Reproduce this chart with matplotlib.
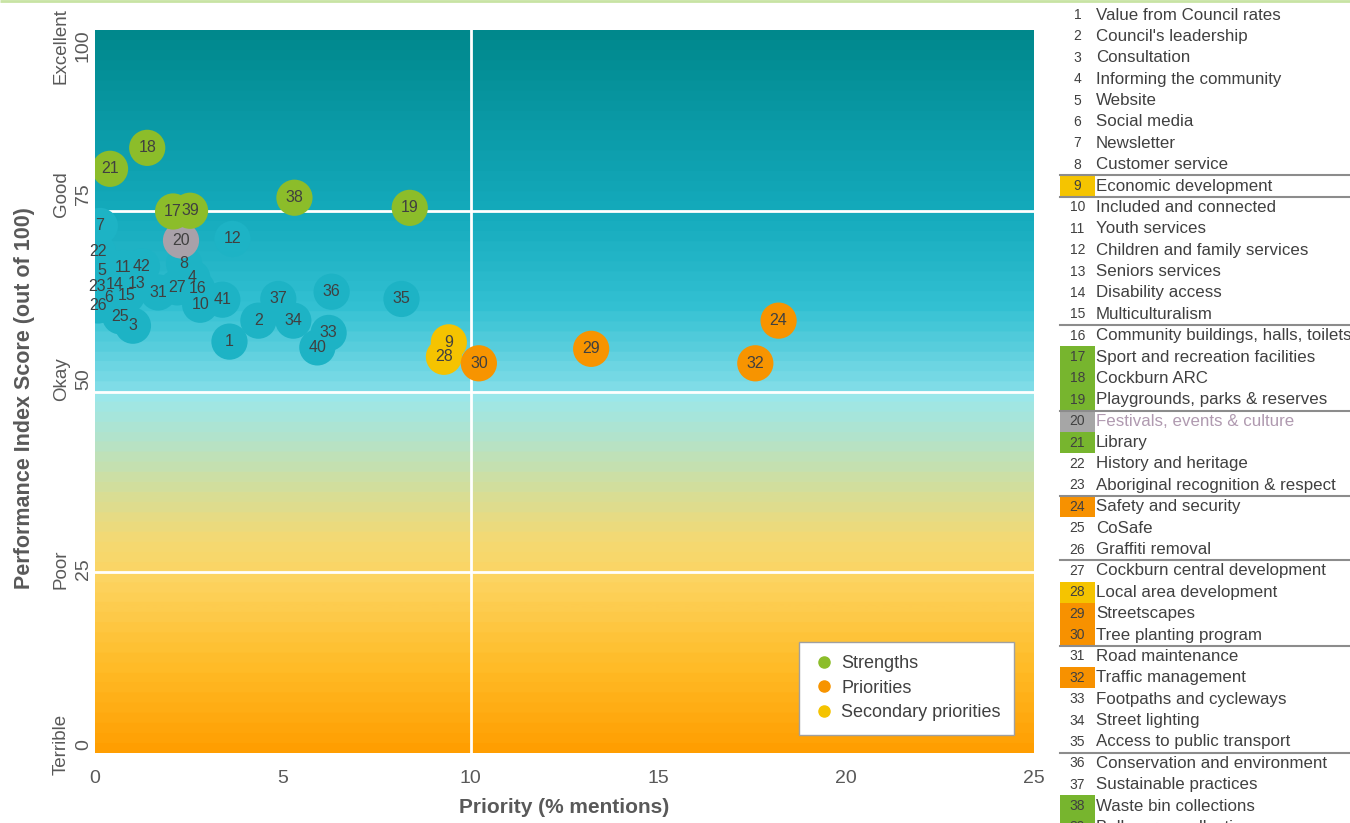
import numpy as np
import matplotlib
matplotlib.use("Agg")
import matplotlib.pyplot as plt
from matplotlib.colors import LinearSegmentedColormap
from matplotlib.lines import Line2D
import matplotlib.transforms as mtransforms

plt.rcParams['font.family'] = ['Liberation Sans', 'DejaVu Sans']

# ---------------- data ----------------
ids = list(range(1, 43))
priority = [3.58, 4.35, 1.01, 2.59, 0.19, 0.37, 0.13, 2.37, 9.42, 2.80,
            0.75, 3.66, 1.12, 0.53, 0.85, 2.72, 2.08, 1.39, 8.38, 2.29,
            0.40, 0.08, 0.05, 18.20, 0.67, 0.08, 2.19, 9.29, 13.21, 10.22,
            1.68, 17.58, 6.22, 5.28, 8.16, 6.30, 4.88, 5.31, 2.53, 5.92,
            3.39, 1.25]
score = [56.9, 59.8, 59.1, 65.7, 66.8, 63.0, 72.9, 67.7, 56.8, 62.0,
         67.1, 71.1, 64.9, 64.8, 63.3, 64.2, 74.9, 83.7, 75.4, 70.9,
         80.8, 69.3, 64.5, 59.8, 60.4, 61.9, 64.4, 54.8, 55.9, 53.9,
         63.7, 53.9, 58.1, 59.8, 62.8, 63.8, 62.8, 76.8, 75.0, 56.1,
         62.7, 67.3]
strengths = [17, 18, 19, 21, 38, 39]
priorities = [24, 29, 30, 32]
secondary = [9, 28]
neutral = [20]

names = ["Value from Council rates", "Council's leadership", "Consultation",
         "Informing the community", "Website", "Social media", "Newsletter",
         "Customer service", "Economic development", "Included and connected",
         "Youth services", "Children and family services", "Seniors services",
         "Disability access", "Multiculturalism",
         "Community buildings, halls, toilets", "Sport and recreation facilities",
         "Cockburn ARC", "Playgrounds, parks & reserves",
         "Festivals, events & culture", "Library", "History and heritage",
         "Aboriginal recognition & respect", "Safety and security", "CoSafe",
         "Graffiti removal", "Cockburn central development",
         "Local area development", "Streetscapes", "Tree planting program",
         "Road maintenance", "Traffic management", "Footpaths and cycleways",
         "Street lighting", "Access to public transport",
         "Conservation and environment", "Sustainable practices",
         "Waste bin collections", "Bulk verge collections"]
group_breaks = [8, 9, 15, 19, 23, 26, 30, 35]   # separator after these items

y_ticks = [0, 25, 50, 75, 100]
y_cats = ["Terrible", "Poor", "Okay", "Good", "Excellent"]
x_ticks = [0, 5, 10, 15, 20, 25]

# ---------------- styles ----------------
C_TEAL = '#1DB3C5'
C_GREEN = '#8CBD2A'
C_ORANGE = '#F79400'
C_YELLOW = '#F5C300'
C_GREY = '#A9A1A9'
BOX = {'strength': '#77B52E', 'priority': '#F79100',
       'secondary': '#F5C400', 'neutral': '#A6A6A6'}
TXT = '#404040'
AX_TXT = '#595959'
NARROW = ['Liberation Sans Narrow', 'Liberation Sans']


def cat_of(i):
    if i in strengths:
        return 'strength'
    if i in priorities:
        return 'priority'
    if i in secondary:
        return 'secondary'
    if i in neutral:
        return 'neutral'
    return 'other'


col_map = {'strength': C_GREEN, 'priority': C_ORANGE, 'secondary': C_YELLOW,
           'neutral': C_GREY, 'other': C_TEAL}

W, H = 1350, 823
fig = plt.figure(figsize=(W / 100, H / 100), dpi=100)
fig.patch.set_facecolor('white')

ax = fig.add_axes([95 / W, 70 / H, 939 / W, 723 / H])
ax.set_xlim(0, 25)
ax.set_ylim(0, 100)

# gradient background
stops = [(0.00, (255, 158, 0)), (0.12, (255, 188, 40)), (0.24, (253, 212, 97)),
         (0.30, (242, 218, 118)), (0.36, (214, 222, 152)), (0.43, (181, 227, 200)),
         (0.495, (155, 232, 235)), (0.505, (128, 221, 232)), (0.62, (50, 192, 210)),
         (0.75, (20, 170, 188)), (0.88, (10, 153, 165)), (1.00, (0, 136, 140))]
cmap = LinearSegmentedColormap.from_list(
    'bg', [(p, tuple(c / 255 for c in rgb)) for p, rgb in stops])
nb = 72
vals = (np.floor(np.linspace(0, 1, 1000) * nb) + 0.5) / nb
img = cmap(vals)[:, None, :]
ax.imshow(img, extent=[0, 25, 0, 100], origin='lower', aspect='auto', zorder=0)

for yv in [25, 50, 75]:
    ax.axhline(yv, color='white', lw=2, zorder=1)
ax.axvline(10, color='white', lw=2, zorder=1)

for sp in ax.spines.values():
    sp.set_visible(False)
ax.tick_params(length=0)
ax.set_xticks(x_ticks)
ax.set_xticklabels([str(v) for v in x_ticks], fontsize=14, color=AX_TXT,
                   family=NARROW)
ax.tick_params(axis='x', pad=12)
ax.set_yticks([])

# y tick labels & categories (rotated text)
trans = mtransforms.blended_transform_factory(ax.transAxes, ax.transData)
y_label_pos = [1.2, 25.4, 51.7, 77.3, 97.8]
for v, c, yp in zip(y_ticks, y_cats, y_label_pos):
    ax.text(-0.0125, yp, str(v), transform=trans, rotation=90, ha='center',
            va='center', fontsize=14, color=AX_TXT, family=NARROW)
    ax.text(-0.036, yp, c, transform=trans, rotation=90, ha='center',
            va='center', fontsize=13.5, color=AX_TXT, family=NARROW)

ax.set_xlabel('Priority (% mentions)', fontsize=15, fontweight='bold',
              color=AX_TXT, labelpad=8, family=NARROW)
fig.text(25 / W, 1 - 398 / H, 'Performance Index Score (out of 100)',
         rotation=90, ha='center', va='center', fontsize=15.5,
         fontweight='bold', color=AX_TXT, family=NARROW)

# bubbles
cats = [cat_of(i) for i in ids]
order = [k for k, c in enumerate(cats) if c == 'other'] + \
        [k for k, c in enumerate(cats) if c == 'neutral'] + \
        [k for k, c in enumerate(cats) if c in ('strength', 'priority', 'secondary')]
for k in order:
    ax.scatter(priority[k], score[k], s=680, color=col_map[cats[k]],
               edgecolors='none', zorder=3)
for k in order:
    ax.text(priority[k], score[k], str(ids[k]), ha='center', va='center',
            fontsize=11.5, color=TXT, zorder=5, clip_on=False)

handles = [Line2D([], [], marker='o', ls='none', color=C_GREEN, markersize=8),
           Line2D([], [], marker='o', ls='none', color=C_ORANGE, markersize=8),
           Line2D([], [], marker='o', ls='none', color=C_YELLOW, markersize=8)]
leg = ax.legend(handles, ['Strengths', 'Priorities', 'Secondary priorities'],
                loc='lower right', bbox_to_anchor=(0.979, 0.025),
                borderaxespad=0, fontsize=13, frameon=True, fancybox=False,
                framealpha=1, edgecolor='#A0A0A0', handletextpad=0.3,
                borderpad=0.75, labelspacing=0.42, handlelength=1.3)
for t in leg.get_texts():
    t.set_color(TXT)
leg.set_zorder(6)

# ---------------- right-hand list (pixel overlay) ----------------
ov = fig.add_axes([0, 0, 1, 1], zorder=10)
ov.set_xlim(0, W)
ov.set_ylim(H, 0)
ov.axis('off')
ov.patch.set_alpha(0)

ov.plot([0, W], [1, 1], color='#C8E3A4', lw=2, solid_capstyle='butt')

row0, rowh = 15.0, 21.38
for i, nm in enumerate(names, start=1):
    yc = row0 + (i - 1) * rowh
    c = cat_of(i)
    if c in BOX:
        ov.add_patch(plt.Rectangle((1060, yc - rowh / 2), 35, rowh,
                                   color=BOX[c], lw=0, zorder=1))
    ov.text(1077.5, yc, str(i), ha='center', va='center', fontsize=10,
            color=TXT, zorder=2)
    ov.text(1096, yc, nm, ha='left', va='center', fontsize=12.2,
            color='#B09AB0' if c == 'neutral' else TXT, zorder=2)
for b in group_breaks:
    yb = row0 + (b - 0.5) * rowh
    ov.plot([1060, W], [yb, yb], color='#8C8C8C', lw=1.5, zorder=3)

fig.savefig('out.png', dpi=100)
